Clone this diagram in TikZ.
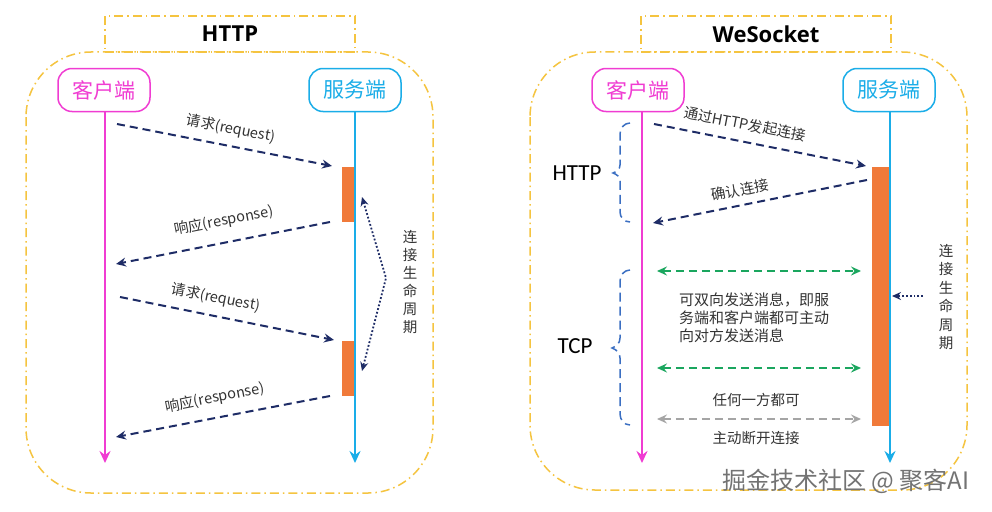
\documentclass[tikz,border=0pt]{standalone}
\usepackage{fontspec}
\setmainfont{Carlito}
\newfontfamily\cjk{Noto Sans CJK SC}
\newfontfamily\titlefont{Open Sans}
\usetikzlibrary{arrows.meta}
\definecolor{cpink}{HTML}{F03CD2}
\definecolor{cblue}{HTML}{1AADE8}
\definecolor{navy}{HTML}{1E2C66}
\definecolor{corange}{HTML}{F07A3A}
\definecolor{cyellow}{HTML}{F5C440}
\definecolor{cgreen}{HTML}{1AA65E}
\definecolor{cgray}{HTML}{A5A5A5}
\definecolor{bracec}{HTML}{3B6FC2}
\definecolor{txt}{HTML}{333333}
\tikzset{
  frame/.style={draw=cyellow, line width=1.5pt, dash pattern=on 9pt off 4pt on 1.5pt off 4pt},
  titlebox/.style={frame, minimum width=250pt, minimum height=36pt, inner sep=0pt,
    font=\titlefont\bfseries\fontsize{22}{26}\selectfont},
  actor/.style={line width=1.5pt, rounded corners=14pt, minimum width=92pt, minimum height=43pt,
    inner sep=0pt, font=\cjk\fontsize{21}{24}\selectfont},
  client/.style={actor, draw=cpink, text=cpink},
  server/.style={actor, draw=cblue, text=cblue},
  life/.style={line width=2pt, -{Stealth[length=12pt,width=11pt,inset=4pt]}},
  bar/.style={fill=corange, draw=none},
  msg/.style={navy, line width=2pt, dash pattern=on 8pt off 5pt,
    -{Stealth[length=10pt,width=9pt,inset=3.5pt]}},
  dmsg/.style={line width=2pt, dash pattern=on 8pt off 5pt,
    {Stealth[length=10pt,width=9pt,inset=3.5pt]}-{Stealth[length=10pt,width=9pt,inset=3.5pt]}},
  lbl/.style={font=\cjk\fontsize{14.5}{17}\selectfont, text=txt, inner sep=0pt},
  vlbl/.style={font=\cjk\fontsize{14.5}{18}\selectfont, text=txt, align=center, inner sep=0pt},
  life2/.style={navy, line width=1.8pt, dotted, {Stealth[length=9pt,width=8pt,inset=3pt]}-{Stealth[length=9pt,width=8pt,inset=3pt]}},
  brace/.style={draw=bracec, line width=1.5pt, dash pattern=on 9pt off 5pt},
  side/.style={font=\fontsize{23}{26}\selectfont, text=black, inner sep=0pt},
}
\begin{document}
\begin{tikzpicture}[x=1pt,y=-1pt]
\useasboundingbox (0,0) rectangle (992,511);
\fill[white] (0,0) rectangle (992,511);

% ================= LEFT: HTTP =================
\draw[frame, rounded corners=65pt] (26,52) rectangle (433,493);
\node[titlebox] (t1) at (230,34) {HTTP};
\node[client] (c1) at (104,90) {客户端};
\node[server] (s1) at (355,90) {服务端};
\coordinate (c1end) at (105,463);
\coordinate (s1end) at (355,463);
\fill[bar] (342,167) rectangle (355,222);
\fill[bar] (342,341) rectangle (355,396);
\draw[life, cpink] (c1.south -| c1end) -- (c1end);
\draw[life, cblue] (s1.south -| s1end) -- (s1end);

\coordinate (a1s) at (117,124); \coordinate (a1e) at (332,166);
\coordinate (a2s) at (330,222); \coordinate (a2e) at (116,264);
\coordinate (a3s) at (120,297); \coordinate (a3e) at (334,340);
\coordinate (a4s) at (330,396); \coordinate (a4e) at (116,437);
\draw[msg] (a1s) -- (a1e);
\draw[msg] (a2s) -- (a2e);
\draw[msg] (a3s) -- (a3e);
\draw[msg] (a4s) -- (a4e);
\node[lbl, rotate=-11] (l1) at (231,129) {请求(request)};
\node[lbl, rotate=11] (l2) at (224,221) {响应(response)};
\node[lbl, rotate=-11] (l3) at (216,298) {请求(request)};
\node[lbl, rotate=11] (l4) at (215,398) {响应(response)};

\coordinate (lt) at (362,197);
\coordinate (lm) at (386,278);
\coordinate (lb) at (362,371);
\draw[life2] (lt) -- (lm) -- (lb);
\node[vlbl] (v1) at (410,282) {连\\接\\生\\命\\周\\期};

% ================= RIGHT: WebSocket =================
\draw[frame, rounded corners=65pt] (530,52) rectangle (967,490);
\node[titlebox] (t2) at (766,34) {WeSocket};
\node[client] (c2) at (638,90) {客户端};
\node[server] (s2) at (889,90) {服务端};
\coordinate (c2end) at (642,463);
\coordinate (s2end) at (890,463);
\fill[bar] (872,167) rectangle (890,426);
\draw[life, cpink] (c2.south -| c2end) -- (c2end);
\draw[life, cblue] (s2.south -| s2end) -- (s2end);

\coordinate (b1s) at (654,124); \coordinate (b1e) at (866,166);
\coordinate (b2s) at (867,180); \coordinate (b2e) at (653,223);
\draw[msg] (b1s) -- (b1e);
\draw[msg] (b2s) -- (b2e);
\node[lbl, rotate=-11] (m1) at (745,124) {通过HTTP发起连接};
\node[lbl, rotate=11] (m2) at (740,190) {确认连接};

\coordinate (g1s) at (657,271); \coordinate (g1e) at (861,271);
\coordinate (g2s) at (657,368); \coordinate (g2e) at (861,368);
\coordinate (g3s) at (657,419); \coordinate (g3e) at (861,419);
\draw[dmsg, cgreen] (g1s) -- (g1e);
\draw[dmsg, cgreen] (g2s) -- (g2e);
\draw[dmsg, cgray, line width=1.5pt] (g3s) -- (g3e);
\node[lbl, anchor=north west, align=left, font=\cjk\fontsize{15}{18}\selectfont] (tb) at (679,293)
  {可双向发送消息，即服\\务端和客户端都可主动\\向对方发送消息};
\node[lbl] (k1) at (756,400) {任何一方都可};
\node[lbl] (k2) at (756,438) {主动断开连接};

% braces
\draw[brace] (630,123) to[out=180,in=90] (620,134) -- (620,165)
  to[out=-90,in=20] (613,173) to[out=-20,in=90] (620,181) -- (620,212)
  to[out=-90,in=180] (630,222);
\node[side] (h) at (577,173) {HTTP};
\draw[brace] (630,270) to[out=180,in=90] (620,281) -- (620,338)
  to[out=-90,in=20] (612,348) to[out=-20,in=90] (620,358) -- (620,414)
  to[out=-90,in=180] (630,425);
\node[side] (tcp) at (575,346) {TCP};

\coordinate (rs) at (923,296);
\coordinate (re) at (892,296);
\draw[navy, line width=1.8pt, dotted, -{Stealth[length=9pt,width=8pt,inset=3pt]}] (rs) -- (re);
\node[vlbl, font=\cjk\fontsize{14.5}{18.5}\selectfont] (v2) at (946,297) {连\\接\\生\\命\\周\\期};

% watermark
\node[font=\cjk\fontsize{24}{28}\selectfont, text=black!55, inner sep=0pt] (wm) at (846,481)
  {掘金技术社区 @ 聚客AI};
\end{tikzpicture}
\end{document}
